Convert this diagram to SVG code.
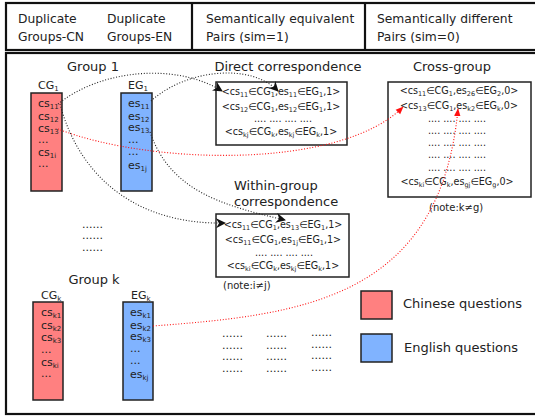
<svg xmlns="http://www.w3.org/2000/svg" width="535" height="418" viewBox="0 0 535 418">
<defs>
<style>
text{font-family:"DejaVu Sans",Verdana,sans-serif;fill:#222}
.hd{font-size:12.3px}
.tt{font-size:13px}
.it{font-size:11px}
.pr{font-size:9.6px}
.nt{font-size:10px}
.s{font-size:7px;baseline-shift:-2px}
.si{font-size:6.5px;baseline-shift:-2px}
.frame{fill:none;stroke:#111;stroke-width:2.2}
.box{fill:#fff;stroke:#222;stroke-width:1.5}
.red{fill:#FF8080;stroke:#222;stroke-width:1.5}
.blue{fill:#80B3FF;stroke:#222;stroke-width:1.5}
.bk{fill:none;stroke:#222;stroke-width:1.1;stroke-dasharray:1 1.8}
.rd{fill:none;stroke:#FF1010;stroke-width:1.1;stroke-dasharray:1 1.8}
</style>
<marker id="ab" viewBox="0 0 10 10" refX="9" refY="5" markerWidth="10" markerHeight="10" markerUnits="userSpaceOnUse" orient="auto">
<path d="M0,0 L10,5 L0,10 L3,5 z" fill="#111"/>
</marker>
<marker id="ar" viewBox="0 0 10 10" refX="9" refY="5" markerWidth="8" markerHeight="8" markerUnits="userSpaceOnUse" orient="auto">
<path d="M0,1 L10,5 L0,9 z" fill="#FF1010"/>
</marker>
</defs>
<rect width="535" height="418" fill="#fff"/>

<g id="header">
<rect class="frame" x="6" y="3" width="540" height="47"/>
<line class="frame" x1="192" y1="3" x2="192" y2="50"/>
<line class="frame" x1="365" y1="3" x2="365" y2="50"/>
<text class="hd" x="18" y="23">Duplicate</text>
<text class="hd" x="18" y="41">Groups-CN</text>
<text class="hd" x="107" y="23">Duplicate</text>
<text class="hd" x="107" y="41">Groups-EN</text>
<text class="hd" x="206" y="23">Semantically equivalent</text>
<text class="hd" x="206" y="41">Pairs (sim=1)</text>
<text class="hd" x="377" y="23">Semantically different</text>
<text class="hd" x="377" y="41">Pairs (sim=0)</text>
</g>

<g id="main-frame">
<rect class="frame" x="6" y="53" width="540" height="361"/>
</g>

<g id="group1">
<text class="tt" x="93" y="71" text-anchor="middle">Group 1</text>
<text class="it" x="38" y="89">CG<tspan class="s">1</tspan></text>
<rect class="red" x="31" y="93" width="31" height="98"/>
<text class="it" x="38" y="107">cs<tspan class="s">11</tspan></text>
<text class="it" x="38" y="120">cs<tspan class="s">12</tspan></text>
<text class="it" x="38" y="132">cs<tspan class="s">13</tspan></text>
<text class="it" x="38" y="143">...</text>
<text class="it" x="38" y="156">cs<tspan class="s">1i</tspan></text>
<text class="it" x="38" y="167">...</text>
<text class="it" x="128" y="89">EG<tspan class="s">1</tspan></text>
<rect class="blue" x="121" y="93" width="31" height="98"/>
<text class="it" x="128" y="107">es<tspan class="s">11</tspan></text>
<text class="it" x="128" y="120">es<tspan class="s">12</tspan></text>
<text class="it" x="128" y="131">es<tspan class="s">13</tspan></text>
<text class="it" x="128" y="143">...</text>
<text class="it" x="128" y="155">...</text>
<text class="it" x="128" y="169">es<tspan class="s">1j</tspan></text>
</g>

<g id="more-groups">
<text class="it" x="82" y="228">......</text>
<text class="it" x="82" y="239">......</text>
<text class="it" x="82" y="251">......</text>
</g>

<g id="groupk">
<text class="tt" x="94" y="284" text-anchor="middle">Group k</text>
<text class="it" x="41" y="299">CG<tspan class="s">k</tspan></text>
<rect class="red" x="33" y="302" width="30" height="98"/>
<text class="it" x="41" y="316">cs<tspan class="s">k1</tspan></text>
<text class="it" x="41" y="329">cs<tspan class="s">k2</tspan></text>
<text class="it" x="41" y="341">cs<tspan class="s">k3</tspan></text>
<text class="it" x="41" y="353">...</text>
<text class="it" x="41" y="366">cs<tspan class="s">ki</tspan></text>
<text class="it" x="41" y="377">...</text>
<text class="it" x="131" y="299">EG<tspan class="s">k</tspan></text>
<rect class="blue" x="123" y="302" width="30" height="98"/>
<text class="it" x="130" y="316">es<tspan class="s">k1</tspan></text>
<text class="it" x="130" y="329">es<tspan class="s">k2</tspan></text>
<text class="it" x="130" y="340">es<tspan class="s">k3</tspan></text>
<text class="it" x="130" y="352">...</text>
<text class="it" x="130" y="364">...</text>
<text class="it" x="130" y="378">es<tspan class="s">kj</tspan></text>
</g>

<g id="direct">
<text class="tt" x="288" y="71" text-anchor="middle">Direct correspondence</text>
<rect class="box" x="216" y="82" width="131" height="63"/>
<text class="pr" x="281" y="95" text-anchor="middle">&lt;cs<tspan class="si">11</tspan>∈CG<tspan class="si">1</tspan>,es<tspan class="si">11</tspan>∈EG<tspan class="si">1</tspan>,1&gt;</text>
<text class="pr" x="281" y="110" text-anchor="middle">&lt;cs<tspan class="si">12</tspan>∈CG<tspan class="si">1</tspan>,es<tspan class="si">12</tspan>∈EG<tspan class="si">1</tspan>,1&gt;</text>
<text class="pr" x="283" y="122" text-anchor="middle">....  ....  ....  ....</text>
<text class="pr" x="281" y="135" text-anchor="middle">&lt;cs<tspan class="si">kj</tspan>∈CG<tspan class="si">k</tspan>,es<tspan class="si">kj</tspan>∈EG<tspan class="si">k</tspan>,1&gt;</text>
</g>

<g id="within">
<text class="tt" x="234" y="190">Within-group</text>
<text class="tt" x="234" y="206">correspondence</text>
<rect class="box" x="216" y="214" width="133" height="63"/>
<text class="pr" x="283" y="228" text-anchor="middle">&lt;cs<tspan class="si">11</tspan>∈CG<tspan class="si">1</tspan>,es<tspan class="si">13</tspan>∈EG<tspan class="si">1</tspan>,1&gt;</text>
<text class="pr" x="283" y="243" text-anchor="middle">&lt;cs<tspan class="si">11</tspan>∈CG<tspan class="si">1</tspan>,es<tspan class="si">1j</tspan>∈EG<tspan class="si">1</tspan>,1&gt;</text>
<text class="pr" x="284" y="256" text-anchor="middle">....  ....  ....  ....</text>
<text class="pr" x="283" y="269" text-anchor="middle">&lt;cs<tspan class="si">ki</tspan>∈CG<tspan class="si">k</tspan>,es<tspan class="si">kj</tspan>∈EG<tspan class="si">k</tspan>,1&gt;</text>
<text class="nt" x="223" y="289">(note:i≠j)</text>
</g>

<g id="cross">
<text class="tt" x="452" y="71" text-anchor="middle">Cross-group</text>
<rect class="box" x="388" y="82" width="143" height="115"/>
<text class="pr" x="459" y="94" text-anchor="middle">&lt;cs<tspan class="si">11</tspan>∈CG<tspan class="si">1</tspan>,es<tspan class="si">26</tspan>∈EG<tspan class="si">2</tspan>,0&gt;</text>
<text class="pr" x="459" y="109" text-anchor="middle">&lt;cs<tspan class="si">13</tspan>∈CG<tspan class="si">1</tspan>,es<tspan class="si">k2</tspan>∈EG<tspan class="si">k</tspan>,0&gt;</text>
<text class="pr" x="457" y="122" text-anchor="middle">....  ....  ....  ....</text>
<text class="pr" x="457" y="134" text-anchor="middle">....  ....  ....  ....</text>
<text class="pr" x="457" y="146" text-anchor="middle">....  ....  ....  ....</text>
<text class="pr" x="457" y="158" text-anchor="middle">....  ....  ....  ....</text>
<text class="pr" x="457" y="171" text-anchor="middle">....  ....  ....  ....</text>
<text class="pr" x="457" y="185" text-anchor="middle">&lt;cs<tspan class="si">ki</tspan>∈CG<tspan class="si">k</tspan>,es<tspan class="si">gj</tspan>∈EG<tspan class="si">g</tspan>,0&gt;</text>
<text class="nt" x="429" y="211">(note:k≠g)</text>
</g>

<g id="more-pairs">
<text class="it" x="222" y="337">......</text>
<text class="it" x="222" y="349">......</text>
<text class="it" x="222" y="360">......</text>
<text class="it" x="222" y="372">......</text>
<text class="it" x="266" y="337">......</text>
<text class="it" x="266" y="349">......</text>
<text class="it" x="266" y="360">......</text>
<text class="it" x="266" y="372">......</text>
<text class="it" x="311" y="336">......</text>
<text class="it" x="311" y="348">......</text>
<text class="it" x="311" y="359">......</text>
<text class="it" x="311" y="371">......</text>
</g>

<g id="legend-chinese">
<rect class="red" x="361" y="291" width="31" height="28"/>
<text class="tt" x="403" y="308">Chinese questions</text>
</g>
<g id="legend-english">
<rect class="blue" x="361" y="334" width="31" height="28"/>
<text class="tt" x="404" y="352">English questions</text>
</g>

<g id="connectors">
<path class="bk" d="M58,104 C100,70 175,62 222,91" marker-end="url(#ab)"/>
<path class="bk" d="M151,101 C185,70 250,62 278,91" marker-end="url(#ab)"/>
<path class="bk" d="M60,104 C80,180 140,225 225,223" marker-end="url(#ab)"/>
<path class="bk" d="M150,132 C170,190 220,205 285,220" marker-end="url(#ab)"/>
<path class="rd" d="M58,129 C150,165 340,170 403,107" marker-end="url(#ar)"/>
<path class="rd" d="M153,326 C300,315 440,300 458,109" marker-end="url(#ar)"/>
</g>
</svg>
